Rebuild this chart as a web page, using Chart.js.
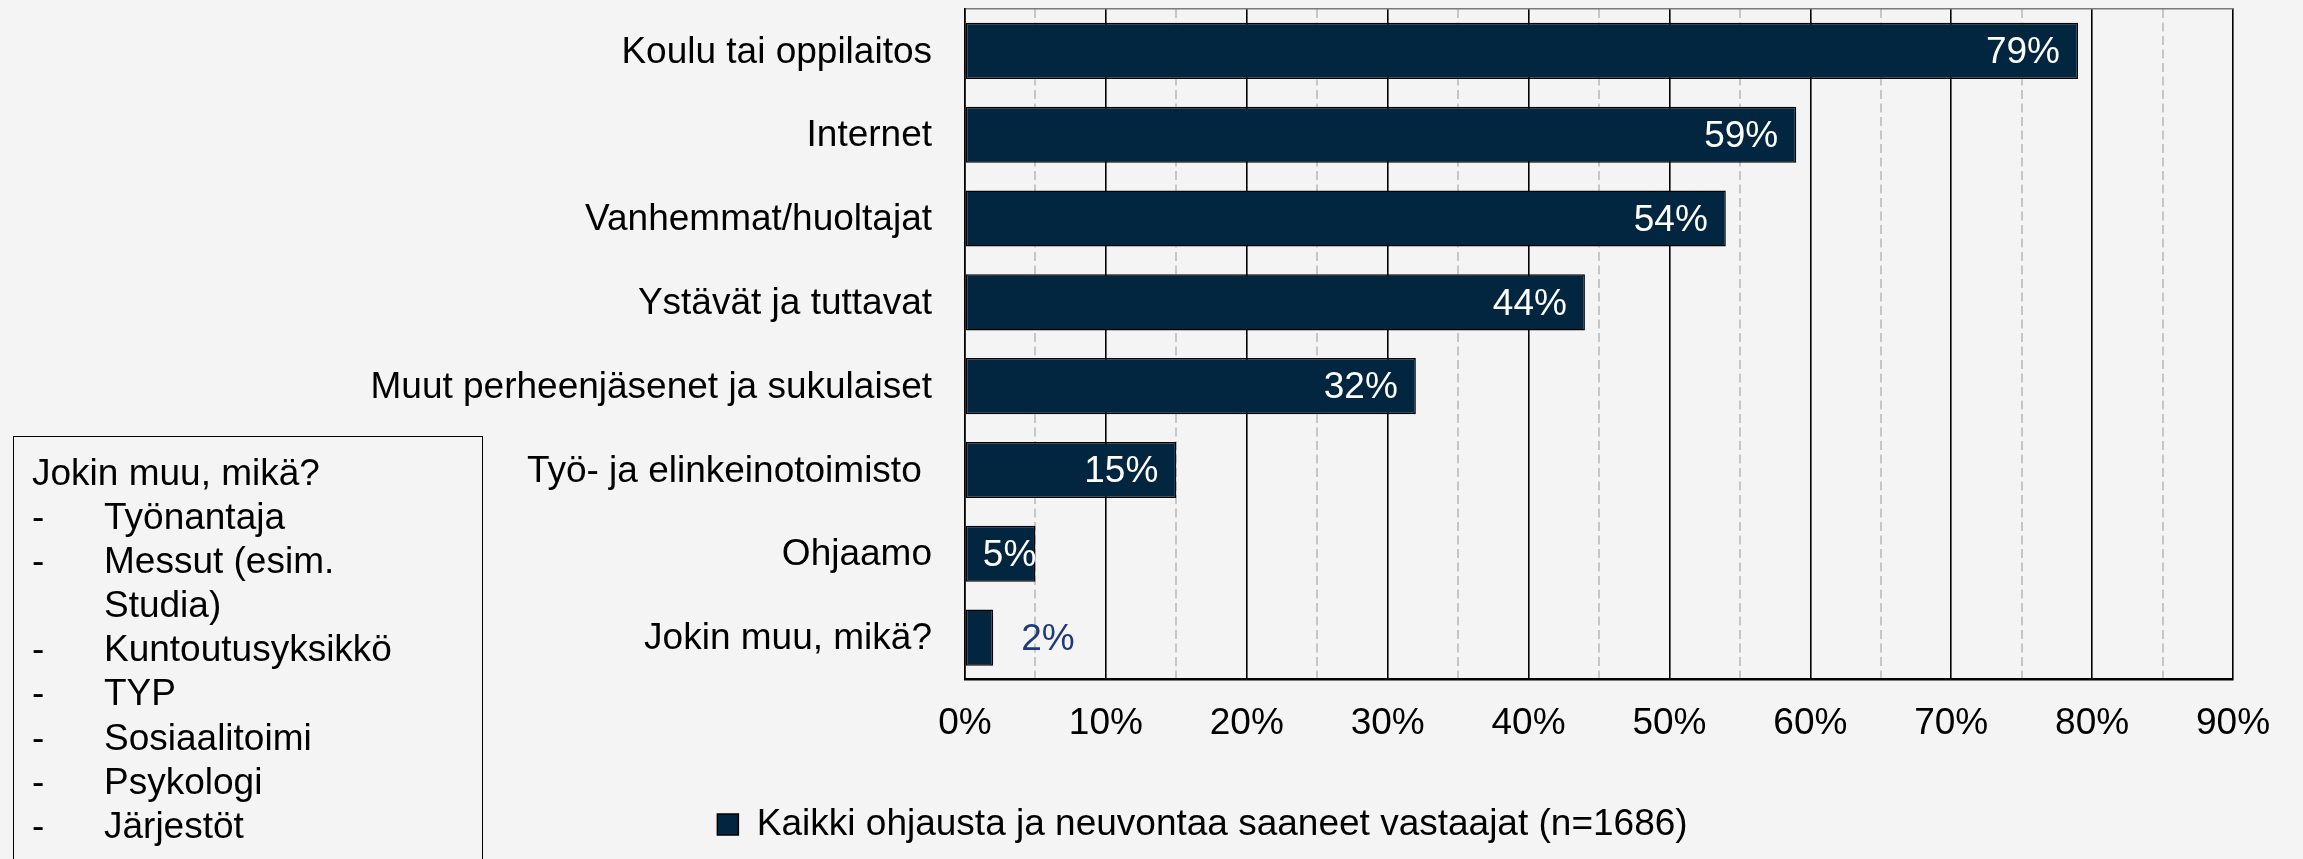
<!DOCTYPE html>
<html>
<head>
<meta charset="utf-8">
<script src="https://cdn.jsdelivr.net/npm/chart.js@4"></script>
<style>
  html, body { margin:0; padding:0; background:#f4f4f4; overflow:hidden; }
  #wrap { position:relative; width:2303px; height:859px; }
  #chart { position:absolute; left:0; top:0; }
  #note {
    position:absolute; left:13px; top:436px; width:470px; height:440px;
    border:1.5px solid #000; box-sizing:border-box;
    padding:14px 0 0 18px;
    font-family:'Liberation Sans', Arial, sans-serif; font-size:37px; line-height:44.1px; color:#000;
  }
  #note .it { display:flex; }
  #note .d { width:72px; flex:none; }
</style>
</head>
<body>
<div id="wrap">
  <canvas id="chart" width="2303" height="859"></canvas>
  <div id="note">
    <div>Jokin muu, mikä?</div>
    <div class="it"><span class="d">-</span><span>Työnantaja</span></div>
    <div class="it"><span class="d">-</span><span>Messut (esim.<br>Studia)</span></div>
    <div class="it"><span class="d">-</span><span>Kuntoutusyksikkö</span></div>
    <div class="it"><span class="d">-</span><span>TYP</span></div>
    <div class="it"><span class="d">-</span><span>Sosiaalitoimi</span></div>
    <div class="it"><span class="d">-</span><span>Psykologi</span></div>
    <div class="it"><span class="d">-</span><span>Järjestöt</span></div>
  </div>
</div>
<script>
(function(){
  // Data
  const categories = [
    'Koulu tai oppilaitos',
    'Internet',
    'Vanhemmat/huoltajat',
    'Ystävät ja tuttavat',
    'Muut perheenjäsenet ja sukulaiset',
    'Työ- ja elinkeinotoimisto ',
    'Ohjaamo',
    'Jokin muu, mikä?'
  ];
  const shares = [79, 59, 54, 44, 32, 15, 5, 2];
  const seriesLabel = 'Kaikki ohjausta ja neuvontaa saaneet vastaajat (n=1686)';
  const axisMax = 90;

  const FONT = "'Liberation Sans', Arial, sans-serif";
  const BAR = '#022540';
  Chart.defaults.font.family = FONT;
  Chart.defaults.color = '#000';

  // value labels at the end of each bar
  const barLabels = {
    id: 'barLabels',
    afterDatasetsDraw(chart){
      const ctx = chart.ctx;
      const meta = chart.getDatasetMeta(0);
      ctx.save();
      ctx.font = '37px ' + FONT;
      ctx.textBaseline = 'middle';
      meta.data.forEach((bar, i) => {
        const txt = shares[i] + '%';
        const w = ctx.measureText(txt).width;
        if (bar.x - bar.base < w + 10){
          ctx.fillStyle = '#1f3a78';
          ctx.textAlign = 'left';
          ctx.fillText(txt, bar.x + 28, bar.y + 2);
        } else {
          ctx.fillStyle = '#fff';
          ctx.textAlign = 'right';
          const right = Math.max(bar.x - 18, bar.base + 17 + w);
          ctx.fillText(txt, right, bar.y + 2);
        }
      });
      ctx.restore();
    }
  };

  new Chart(document.getElementById('chart').getContext('2d'), {
    type: 'bar',
    data: {
      labels: categories,
      datasets: [{
        label: seriesLabel,
        data: shares,
        backgroundColor: BAR,
        borderColor: '#000',
        borderWidth: 1.5,
        borderSkipped: false,
        barPercentage: 0.67,
        categoryPercentage: 1
      }]
    },
    options: {
      indexAxis: 'y',
      responsive: false,
      animation: false,
      layout: { padding: { left: 172, right: 70, top: 9, bottom: 6 } },
      plugins: {
        legend: {
          position: 'bottom',
          labels: { font: { size: 37 }, color: '#000', boxWidth: 21, boxHeight: 21, padding: 10 }
        },
        tooltip: { enabled: false }
      },
      scales: {
        x: {
          position: 'bottom',
          min: 0, max: axisMax,
          ticks: { stepSize: 10, font: { size: 37 }, color: '#000', padding: 22, callback: v => v + '%' },
          grid: { color: '#000', lineWidth: 1.6, drawTicks: false },
          border: { display: true, color: '#000', width: 2.5 },
          afterFit(s){ s.height = 116.5; }
        },
        xMinor: {
          position: 'bottom',
          min: 0, max: axisMax,
          ticks: { display: false, stepSize: 5 },
          grid: {
            drawTicks: false, lineWidth: 2,
            color: c => (c.tick && c.tick.value % 10 === 5) ? '#c6c6c6' : 'rgba(0,0,0,0)'
          },
          border: { display: false, dash: [9, 4.5] },
          afterFit(s){ s.height = 0; }
        },
        xTop: {
          position: 'top',
          min: 0, max: axisMax,
          ticks: { display: false },
          grid: { display: false, drawTicks: false },
          border: { display: true, color: '#7a7a7a', width: 1.5 },
          afterFit(s){ s.height = 0; }
        },
        y: {
          ticks: { font: { size: 37 }, color: '#000', padding: 33, labelOffset: 1.5 },
          grid: { display: false, drawTicks: false },
          border: { display: true, color: '#000', width: 1.5 },
          afterFit(s){ s.width = 793; s.paddingTop = 0; s.paddingBottom = 0; }
        }
      }
    },
    plugins: [barLabels]
  });
})();
</script>
</body>
</html>
